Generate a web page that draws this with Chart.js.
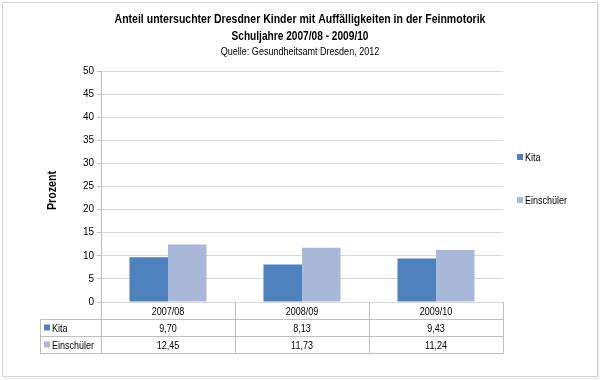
<!DOCTYPE html>
<html>
<head>
<meta charset="utf-8">
<script src="https://cdn.jsdelivr.net/npm/chart.js@4"></script>
<style>
  html, body { margin: 0; padding: 0; background: #fff; }
  #wrap { position: relative; width: 600px; height: 380px; }
</style>
</head>
<body>
<div id="wrap"><canvas id="c" width="600" height="380"></canvas></div>
<script>
const jahre      = ['2007/08', '2008/09', '2009/10'];
const kita       = [9.70, 8.13, 9.43];
const einschuler = [12.45, 11.73, 11.24];
const serien     = ['Kita', 'Einschüler'];
const farben     = ['#4f81bd', '#a9b8d9'];

const FONT = '"Liberation Sans", Arial, sans-serif';
const fmtDE = v => v.toFixed(2).replace('.', ',');

// schmale schrift nachbilden (Arial Narrow gibt es hier nicht)
function narrow(ctx, txt, x, y, sx = 0.82) {
  ctx.save();
  ctx.translate(x, y);
  ctx.scale(sx, 1);
  ctx.fillText(txt, 0, 0);
  ctx.restore();
}

// titel, legende rechts, datentabelle unten
const extras = {
  id: 'extras',
  afterDraw(chart) {
    const ctx = chart.ctx;
    const a = chart.chartArea;
    const xs = chart.scales.x;
    ctx.save();

    // rahmen mit leichtem schatten
    ctx.lineWidth = 1;
    ctx.strokeStyle = '#e6e6e6';
    ctx.beginPath();
    ctx.moveTo(598.5, 4); ctx.lineTo(598.5, 378.5); ctx.lineTo(4, 378.5);
    ctx.stroke();
    ctx.strokeStyle = '#d4d4d4';
    ctx.strokeRect(2.5, 2.5, 595, 374);

    // titel
    ctx.fillStyle = '#000';
    ctx.textAlign = 'center';
    ctx.textBaseline = 'middle';
    ctx.font = 'bold 13px ' + FONT;
    narrow(ctx, 'Anteil untersuchter Dresdner Kinder mit Auffälligkeiten in der Feinmotorik', 300, 19, 0.81);
    narrow(ctx, 'Schuljahre 2007/08 - 2009/10', 300, 36, 0.78);
    ctx.font = '11px ' + FONT;
    narrow(ctx, 'Quelle: Gesundheitsamt Dresden, 2012', 300, 52);

    // y-titel
    ctx.save();
    ctx.translate(52, (a.top + a.bottom) / 2 + 4);
    ctx.rotate(-Math.PI / 2);
    ctx.font = 'bold 13px ' + FONT;
    narrow(ctx, 'Prozent', 0, 0);
    ctx.restore();

    // legende rechts
    ctx.textAlign = 'left';
    ctx.font = '11px ' + FONT;
    [157, 200].forEach((y, i) => {
      ctx.fillStyle = farben[i];
      ctx.fillRect(517, y - 3, 6, 6);
      ctx.fillStyle = '#000';
      narrow(ctx, serien[i], 525, y + 1);
    });

    // tabelle
    const rowH = 17;
    const left = 40.5;
    const top = a.bottom;
    const colW = (a.right - a.left) / jahre.length;
    ctx.strokeStyle = '#bfbfbf';
    ctx.beginPath();
    ctx.moveTo(left, top + rowH + 0.5); ctx.lineTo(a.right, top + rowH + 0.5);
    ctx.moveTo(left, top + 2 * rowH + 0.5); ctx.lineTo(a.right, top + 2 * rowH + 0.5);
    ctx.moveTo(left, top + 3 * rowH + 0.5); ctx.lineTo(a.right, top + 3 * rowH + 0.5);
    ctx.moveTo(left, top + rowH + 0.5); ctx.lineTo(left, top + 3 * rowH + 0.5);
    for (let i = 0; i <= jahre.length; i++) {
      const x = Math.round(a.left + i * colW) + 0.5;
      ctx.moveTo(x, top); ctx.lineTo(x, top + 3 * rowH + 0.5);
    }
    ctx.stroke();

    ctx.font = '11px ' + FONT;
    ctx.textAlign = 'center';
    ctx.fillStyle = '#000';
    const werte = [kita, einschuler];
    jahre.forEach((j, i) => {
      const cx = xs.getPixelForValue(i);
      narrow(ctx, j, cx, top + rowH / 2 + 1);
      werte.forEach((w, k) => narrow(ctx, fmtDE(w[i]), cx, top + rowH * (k + 1.5) + 1));
    });
    ctx.textAlign = 'left';
    serien.forEach((s, k) => {
      const y = top + rowH * (k + 1.5);
      ctx.fillStyle = farben[k];
      ctx.fillRect(44, y - 3, 6, 6);
      ctx.fillStyle = '#000';
      narrow(ctx, s, 52, y + 1);
    });
    ctx.restore();
  }
};

new Chart(document.getElementById('c'), {
  type: 'bar',
  data: {
    labels: jahre,
    datasets: [
      { label: serien[0], data: kita,       backgroundColor: farben[0] },
      { label: serien[1], data: einschuler, backgroundColor: farben[1] },
    ],
  },
  options: {
    responsive: false, animation: false,
    layout: { padding: { left: 40, right: 97, top: 71, bottom: 78 } },
    datasets: { bar: { categoryPercentage: 0.575, barPercentage: 1.0 } },
    plugins: { legend: { display: false }, title: { display: false }, tooltip: { enabled: false } },
    scales: {
      x: { display: false },
      y: {
        min: 0, max: 50,
        afterFit: s => { s.width = 61; },
        border: { color: '#bfbfbf' },
        grid: { color: '#d9d9d9', tickLength: 4, tickColor: '#bfbfbf' },
        ticks: { stepSize: 5, padding: 3, color: '#000', font: { family: FONT, size: 10 } },
      },
    },
  },
  plugins: [extras],
});
</script>
</body>
</html>
